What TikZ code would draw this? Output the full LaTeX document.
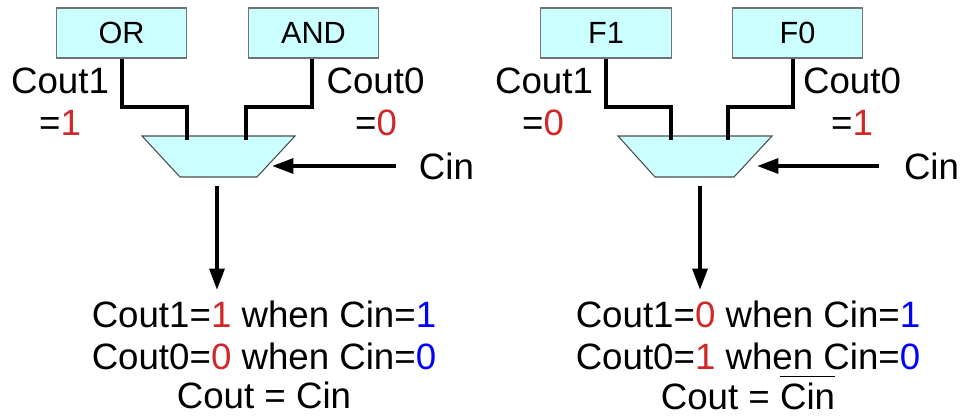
\documentclass[tikz,border=0pt]{standalone}
\usepackage{fontspec}
\setmainfont{Liberation Sans}
\usetikzlibrary{arrows.meta}
\definecolor{boxfill}{HTML}{CCFFFF}
\definecolor{vred}{HTML}{D02828}
\definecolor{vblue}{HTML}{0000FF}
\newcommand\myovl[1]{\vbox{\hrule height 0.7pt\kern 4pt\hbox{#1}}}
\newcommand\rv[1]{\textcolor{vred}{#1}}
\newcommand\bv[1]{\textcolor{vblue}{#1}}
\begin{document}
\begin{tikzpicture}[x=0.75pt,y=-0.75pt,
  fnbox/.style={draw=black!55, line width=0.8pt, fill=boxfill, minimum width=98pt, minimum height=37.5pt, inner sep=0pt, font=\fontsize{23}{28}\selectfont},
  lbl/.style={inner sep=0pt, font=\fontsize{27.5}{33}\selectfont},
  wire/.style={line width=3pt},
  mux/.style={draw=black!70, line width=0.8pt, fill=boxfill},
  arr/.style={line width=3pt, -{Triangle[length=16pt,width=11pt]}}]
\useasboundingbox (0,0) rectangle (962,415);

% ---------- left panel ----------
\node[fnbox] (or) at (121.5,33) {OR};
\node[fnbox] (and) at (313.5,33) {AND};
\draw[mux] (142,136) coordinate (lmA) -- (295,136) coordinate (lmB) -- (257,177) coordinate (lmC) -- (180,177) coordinate (lmD) -- cycle;
\coordinate (lin1) at (187,140);
\coordinate (lin0) at (246,140);
\draw[wire] ([xshift=0.4pt]or.south) |- (187,107) -- (lin1);
\draw[wire] ([xshift=-1.1pt]and.south) |- (246,107) -- (lin0);
\node[lbl] (lcout1) at (60,80.5) {Cout1};
\node[lbl] (lv1) at (60,122.5) {=\rv{1}};
\node[lbl] (lcout0) at (375.5,80.5) {Cout0};
\node[lbl] (lv0) at (376,122.5) {=\rv{0}};
\node[lbl] (lcin) at (446.5,166) {Cin};
\coordinate (lcinS) at (396,166);
\coordinate (lcinE) at (272,166);
\draw[arr] (lcinS) -- (lcinE);
\coordinate (loutS) at (217,186);
\coordinate (loutE) at (217,290);
\draw[arr] (loutS) -- (loutE);
\node[lbl, anchor=base] (lt1) at (264,327.5) {Cout1=\rv{1} when Cin=\bv{1}};
\node[lbl, anchor=base] (lt2) at (264,369.5) {Cout0=\rv{0} when Cin=\bv{0}};
\node[lbl, anchor=base] (lt3) at (264,408) {Cout = Cin};

% ---------- right panel ----------
\node[fnbox] (f1) at (606,33) {F1};
\node[fnbox] (f0) at (797.5,33) {F0};
\draw[mux] (618,136) coordinate (rmA) -- (772,136) coordinate (rmB) -- (734,177) coordinate (rmC) -- (655,177) coordinate (rmD) -- cycle;
\coordinate (rin1) at (671,140);
\coordinate (rin0) at (728,140);
\draw[wire] (f1.south) |- (671,107) -- (rin1);
\draw[wire] ([xshift=-3.4pt]f0.south) |- (728,107) -- (rin0);
\node[lbl] (rcout1) at (544,80.5) {Cout1};
\node[lbl] (rv0) at (543,122.5) {=\rv{0}};
\node[lbl] (rcout0) at (852,80.5) {Cout0};
\node[lbl] (rv1) at (852,122.5) {=\rv{1}};
\node[lbl] (rcin) at (931.5,166) {Cin};
\coordinate (rcinS) at (879,166);
\coordinate (rcinE) at (757,166);
\draw[arr] (rcinS) -- (rcinE);
\coordinate (routS) at (700,186);
\coordinate (routE) at (700,290);
\draw[arr] (routS) -- (routE);
\node[lbl, anchor=base] (rt1) at (748,327.5) {Cout1=\rv{0} when Cin=\bv{1}};
\node[lbl, anchor=base] (rt2) at (748,369) {Cout0=\rv{1} when Cin=\bv{0}};
\node[lbl, anchor=base] (rt3) at (748,409) {Cout = \myovl{Cin}};
\end{tikzpicture}
\end{document}
